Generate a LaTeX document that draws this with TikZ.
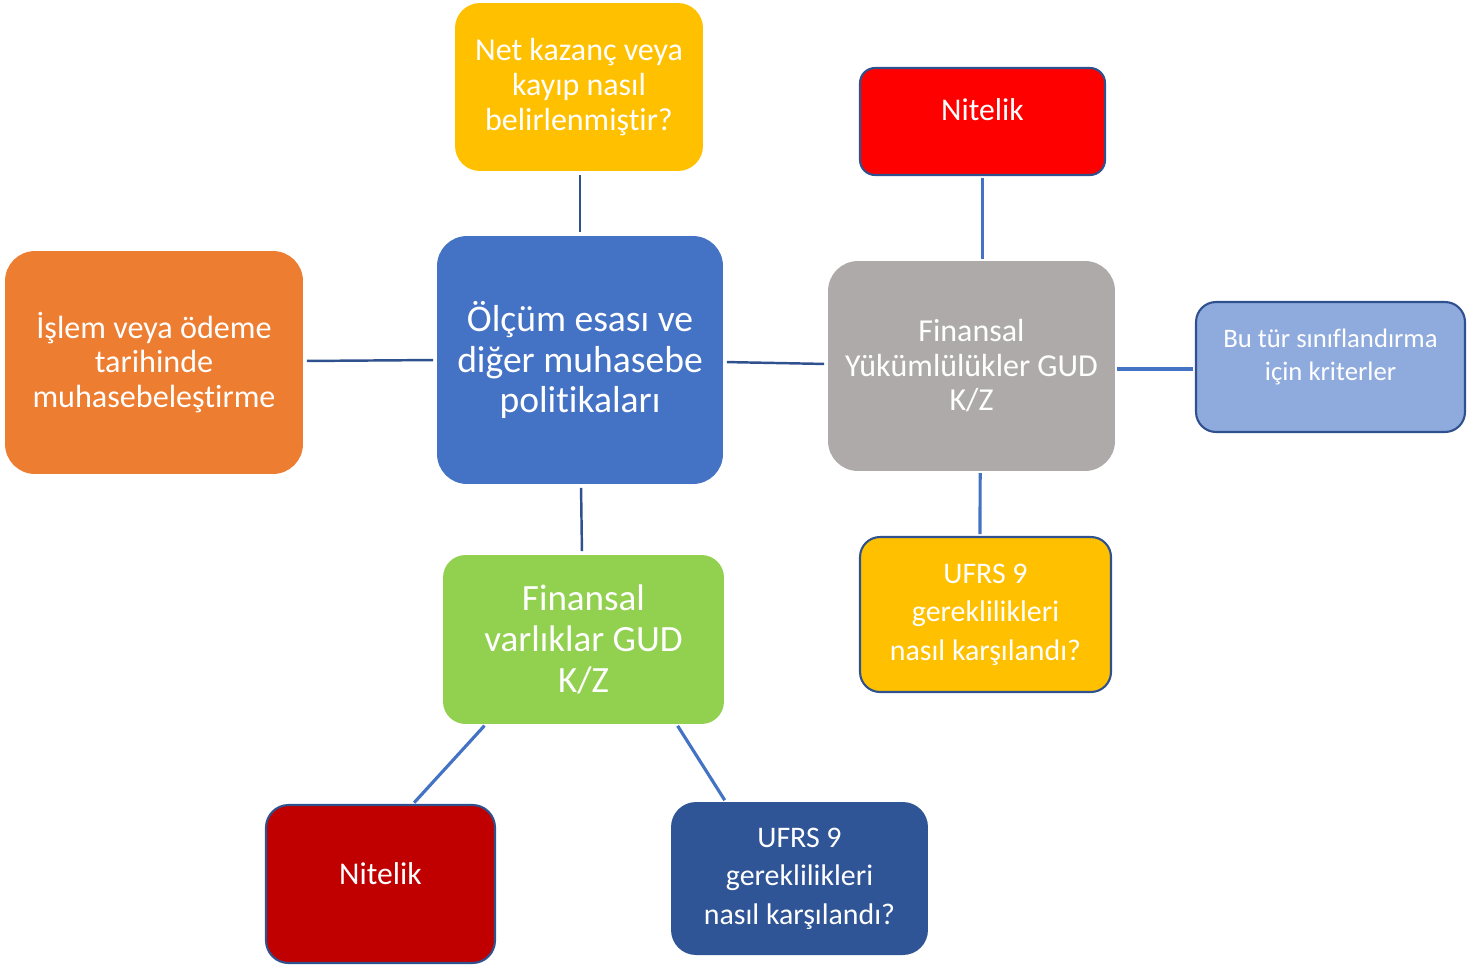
\documentclass[tikz,border=0pt]{standalone}
\usepackage{fontspec}
\setmainfont{Carlito}[Ligatures=NoCommon]
\usetikzlibrary{calc}

\definecolor{cYellow}{HTML}{FFC000}
\definecolor{cBlue}{HTML}{4472C4}
\definecolor{cOrange}{HTML}{ED7D31}
\definecolor{cRed}{HTML}{FF0000}
\definecolor{cGray}{HTML}{AEAAAA}
\definecolor{cLight}{HTML}{8FAADC}
\definecolor{cGreen}{HTML}{92D050}
\definecolor{cDarkRed}{HTML}{C00000}
\definecolor{cNavy}{HTML}{2F5597}
\definecolor{cEdge}{HTML}{2F528F}

\tikzset{
  box/.style={rectangle, draw=none, text=white, align=center, inner sep=0pt},
  edged/.style={draw=cEdge, line width=1.2pt},
  txt/.style={text=white, align=center, inner sep=0pt},
  hub/.style={draw=cEdge, line width=1.4pt, shorten <=2pt, shorten >=2pt},
  link/.style={draw=cBlue, line width=1.8pt, shorten <=1pt, shorten >=1pt},
}

\begin{document}
\begin{tikzpicture}[x=0.02cm, y=-0.02cm]
\useasboundingbox (0,0) rectangle (1469,970);

% centre
\node[box, fill=cBlue, minimum width=5.72cm, minimum height=4.96cm, rounded corners=0.6cm,
      font=\fontsize{21.4}{23.2}\selectfont] (c) at (580,360)
  {Ölçüm esası ve\\diğer muhasebe\\politikaları};

% top question
\node[box, fill=cYellow, minimum width=4.96cm, minimum height=3.36cm, rounded corners=0.5cm,
      font=\fontsize{18.2}{19.8}\selectfont] (q) at (579,87)
  {Net kazanç veya\\kayıp nasıl\\belirlenmiştir?};

% left
\node[box, fill=cOrange, minimum width=5.96cm, minimum height=4.46cm, rounded corners=0.6cm,
      font=\fontsize{18.3}{19.8}\selectfont] (o) at (154,362.5)
  {İşlem veya ödeme\\tarihinde\\muhasebeleştirme};

% right: liabilities
\node[box, fill=cGray, minimum width=5.74cm, minimum height=4.2cm, rounded corners=0.6cm,
      font=\fontsize{18.2}{19.6}\selectfont] (g) at (971.5,366)
  {Finansal\\Yükümlülükler GUD\\K/Z};

\node[box, edged, fill=cRed, minimum width=4.9cm, minimum height=2.14cm, rounded corners=0.3cm] (r) at (982.5,121.5) {};
\node[txt, font=\fontsize{18}{19.6}\selectfont] (rt) at (982.5,110) {Nitelik};

\node[box, edged, fill=cLight, minimum width=5.38cm, minimum height=2.6cm, rounded corners=0.4cm] (lb) at (1330.5,367) {};
\node[txt, font=\fontsize{15.2}{19.3}\selectfont] (lbt) at (1330.5,357) {Bu tür sınıflandırma\\için kriterler};

\node[box, edged, fill=cYellow, minimum width=5.02cm, minimum height=3.1cm, rounded corners=0.4cm,
      font=\fontsize{17}{22}\selectfont] (u1) at (985.5,614.5)
  {UFRS 9\\gereklilikleri\\nasıl karşılandı?};

% bottom: assets
\node[box, fill=cGreen, minimum width=5.62cm, minimum height=3.38cm, rounded corners=0.45cm,
      font=\fontsize{21.1}{23.2}\selectfont] (gr) at (583.5,639.5)
  {Finansal\\varlıklar GUD\\K/Z};

\node[box, edged, fill=cDarkRed, minimum width=4.58cm, minimum height=3.16cm, rounded corners=0.45cm] (dr) at (380.5,884) {};
\node[txt, font=\fontsize{18}{19.6}\selectfont] (drt) at (380.5,874) {Nitelik};

\node[box, fill=cNavy, minimum width=5.14cm, minimum height=3.06cm, rounded corners=0.5cm,
      font=\fontsize{17}{22}\selectfont] (u2) at (799.5,878.5)
  {UFRS 9\\gereklilikleri\\nasıl karşılandı?};

% connectors from the centre
\draw[hub] ($(q.south)+(1,0)$) -- (c.north);
\draw[hub] ($(o.east)+(0,-1.5)$) -- (c.west);
\draw[hub] ($(c.east)+(0,2)$) -- ($(g.west)+(0,-2)$);
\draw[hub] ($(c.south)+(1,0)$) -- ($(gr.north)+(-1.5,0)$);

% outer connectors
\draw[link] (r.south) -- (r.south |- g.north);
\draw[link] ($(g.east)+(0,3)$) -- ($(lb.west)+(0,2)$);
\draw[link] ($(g.south west)+(152.5,0)$) -- ($(u1.north west)+(121,0)$);
\draw[link] ($(gr.south west)+(43,0)$) -- ($(dr.north west)+(148,0)$);
\draw[link] ($(gr.south west)+(234,0)$) -- ($(u2.north west)+(55,0)$);
\end{tikzpicture}
\end{document}
